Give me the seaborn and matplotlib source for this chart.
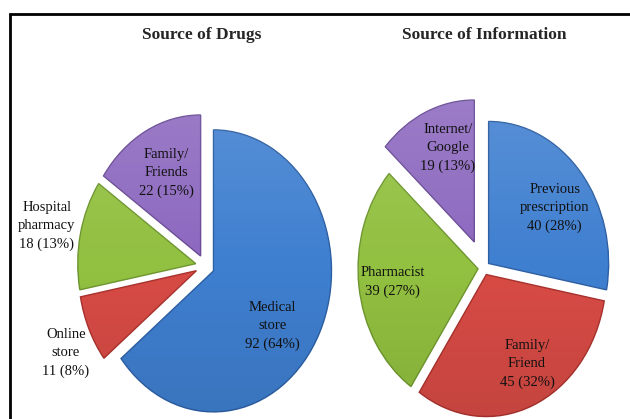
import matplotlib
matplotlib.use("Agg")
import matplotlib.pyplot as plt
import numpy as np
import seaborn as sns
from matplotlib.patches import Rectangle

# ---- data ----
drug_sources = ["Medical\nstore", "Online\nstore", "Hospital\npharmacy", "Family/\nFriends"]
drug_counts = [92, 11, 18, 22]
drug_pcts = [64, 8, 13, 15]

info_sources = ["Previous\nprescription", "Family/\nFriend", "Pharmacist", "Internet/\nGoogle"]
info_counts = [40, 45, 39, 19]
info_pcts = [28, 32, 27, 13]

titles = ["Source of Drugs", "Source of Information"]

# ---- style ----
sns.set_theme(style="white")
plt.rcParams["font.family"] = ["Liberation Serif", "DejaVu Serif"]

palette = sns.color_palette(["#3f7fd0", "#d84b45", "#92c040", "#8c68bf"])
edges = sns.color_palette(["#2d5fa3", "#a8322e", "#6e9630", "#6a4c96"])

W, H = 630, 419
fig = plt.figure(figsize=(W / 100, H / 100), dpi=100)
fig.patch.set_facecolor("white")

# soft sheen: light at the top, slightly darker at the bottom
t = np.linspace(0, 1, 200)[:, None]
sheen = np.zeros((200, 1, 4))
sheen[..., :3] = np.where(t < 0.5, 1.0, 0.0)[..., None]
sheen[..., 3] = np.where(t < 0.5, 0.16 * (1 - 2 * t), 0.12 * (2 * t - 1))


def pie_axes():
    ax = fig.add_axes([0, 0, 1, 1])
    ax.patch.set_alpha(0)
    return ax


def shade(ax):
    for w, ec in zip(list(ax.patches), edges):
        w.set_edgecolor(ec)
        im = ax.imshow(sheen, extent=[-1.4, 1.4, -1.4, 1.4], aspect="auto",
                       zorder=w.get_zorder() + 0.1, interpolation="bilinear")
        im.set_clip_path(w)


def finish(ax, cx, cy, rx, ry):
    ax.set_aspect("auto")
    ax.set_xlim(-cx / rx, (W - cx) / rx)
    ax.set_ylim(-(H - cy) / ry, cy / ry)
    ax.axis("off")


LABEL_KW = dict(ha="center", va="center", fontsize=10.5, linespacing=1.5,
                color="#111111", zorder=5)

# left pie
ax1 = pie_axes()
ax1.pie(drug_counts, colors=palette, startangle=90, counterclock=False,
        explode=[0.08, 0.08, 0.08, 0.08],
        wedgeprops=dict(linewidth=1.0))
shade(ax1)
finish(ax1, 205, 266, 118, 141)
pos1 = [(0.568, -0.426), (-1.18, -0.617), (-1.34, 0.284), (-0.33, 0.66)]
for name, n, p, (x, y) in zip(drug_sources, drug_counts, drug_pcts, pos1):
    ax1.text(x, y, f"{name}\n{n} ({p}%)", **LABEL_KW)

# right pie
ax2 = pie_axes()
ax2.pie(info_counts, colors=palette, startangle=90, counterclock=False,
        explode=[0.05, 0.05, 0.05, 0.2],
        wedgeprops=dict(linewidth=1.0))
shade(ax2)
finish(ax2, 484, 268, 120, 142)
pos2 = [(0.59, 0.424), (0.358, -0.674), (-0.76, -0.097), (-0.30, 0.847)]
for name, n, p, (x, y) in zip(info_sources, info_counts, info_pcts, pos2):
    ax2.text(x, y, f"{name}\n{n} ({p}%)", **LABEL_KW)

# titles
fig.text(202 / W, 1 - 35 / H, titles[0], ha="center", va="center",
         fontsize=12.5, fontweight="bold")
fig.text(484 / W, 1 - 35 / H, titles[1], ha="center", va="center",
         fontsize=12.5, fontweight="bold")

# outer frame (cropped at right/bottom)
fig.patches.append(Rectangle((10 / W, -0.1), 1.2, (H - 14) / H + 0.1,
                             transform=fig.transFigure, fill=False,
                             edgecolor="black", linewidth=2))

fig.savefig("out.png", dpi=100)
